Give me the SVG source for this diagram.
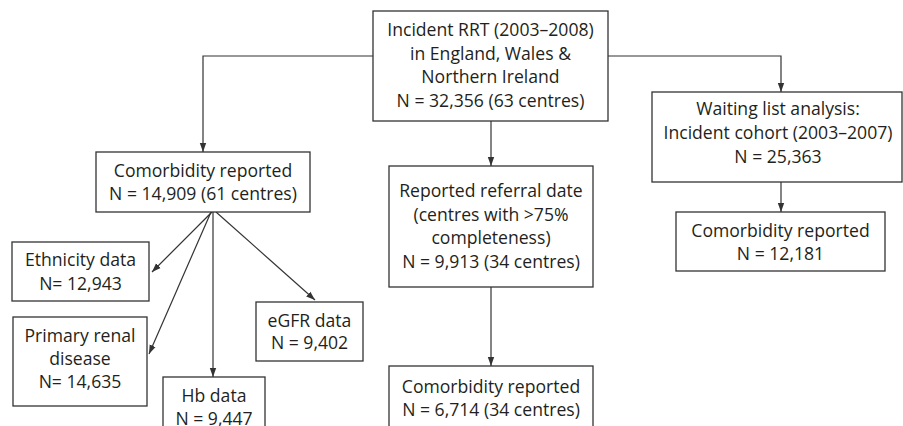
<svg xmlns="http://www.w3.org/2000/svg" width="903" height="426" viewBox="0 0 903 426">
<style>
.box{fill:#fff;stroke:#333;stroke-width:1.3}
.t{font-family:"Open Sans","Liberation Sans",sans-serif;font-size:17.6px;fill:#231f20;text-anchor:middle}
.c{fill:none;stroke:#333;stroke-width:1.2}
</style>
<defs>
<marker id="ah" markerUnits="userSpaceOnUse" markerWidth="10" markerHeight="8" refX="9" refY="4" orient="auto">
<path d="M0,0.8 L9,4 L0,7.2 Z" fill="#333"/>
</marker>
</defs>
<rect width="903" height="426" fill="#fff"/>
<g id="connectors">
<path class="c" d="M373,56 H203 V152" marker-end="url(#ah)"/>
<path class="c" d="M608,56 H781 V92" marker-end="url(#ah)"/>
<path class="c" d="M491,121 V166" marker-end="url(#ah)"/>
<path class="c" d="M491,287 V366" marker-end="url(#ah)"/>
<path class="c" d="M781,182 V212" marker-end="url(#ah)"/>
<path class="c" d="M212,212 L152,272" marker-end="url(#ah)"/>
<path class="c" d="M211,212 L149,354" marker-end="url(#ah)"/>
<path class="c" d="M213,212 V377" marker-end="url(#ah)"/>
<path class="c" d="M216,212 L315,300" marker-end="url(#ah)"/>
</g>
<g id="n-incident">
<rect class="box" x="373" y="11" width="235" height="110"/>
<text class="t" x="490.5" y="36">Incident RRT (2003–2008)</text>
<text class="t" x="490.5" y="60">in England, Wales &amp;</text>
<text class="t" x="490.5" y="83">Northern Ireland</text>
<text class="t" x="490.5" y="107">N = 32,356 (63 centres)</text>
</g>
<g id="n-comorb-left">
<rect class="box" x="96" y="152" width="214" height="60"/>
<text class="t" x="203" y="177">Comorbidity reported</text>
<text class="t" x="203" y="200">N = 14,909 (61 centres)</text>
</g>
<g id="n-referral">
<rect class="box" x="389" y="166" width="204" height="121"/>
<text class="t" x="491" y="197">Reported referral date</text>
<text class="t" x="491" y="221">(centres with &gt;75%</text>
<text class="t" x="491" y="244">completeness)</text>
<text class="t" x="491" y="268">N = 9,913 (34 centres)</text>
</g>
<g id="n-comorb-mid">
<rect class="box" x="389" y="366" width="204" height="70"/>
<text class="t" x="491" y="393">Comorbidity reported</text>
<text class="t" x="491" y="416">N = 6,714 (34 centres)</text>
</g>
<g id="n-waiting">
<rect class="box" x="652" y="92" width="250" height="90"/>
<text class="t" x="778" y="115">Waiting list analysis:</text>
<text class="t" x="778" y="139">Incident cohort (2003–2007)</text>
<text class="t" x="778" y="163">N = 25,363</text>
</g>
<g id="n-comorb-right">
<rect class="box" x="676" y="212" width="209" height="59"/>
<text class="t" x="780.5" y="237">Comorbidity reported</text>
<text class="t" x="780.5" y="260">N = 12,181</text>
</g>
<g id="n-ethnicity">
<rect class="box" x="12" y="242" width="137" height="59"/>
<text class="t" x="80.5" y="266">Ethnicity data</text>
<text class="t" x="80.5" y="290">N= 12,943</text>
</g>
<g id="n-renal">
<rect class="box" x="13" y="317" width="134" height="89"/>
<text class="t" x="80" y="342">Primary renal</text>
<text class="t" x="80" y="365">disease</text>
<text class="t" x="80" y="388">N= 14,635</text>
</g>
<g id="n-hb">
<rect class="box" x="163" y="377" width="102" height="60"/>
<text class="t" x="214" y="402">Hb data</text>
<text class="t" x="214" y="425">N = 9,447</text>
</g>
<g id="n-egfr">
<rect class="box" x="256" y="302" width="107" height="59"/>
<text class="t" x="309.5" y="327">eGFR data</text>
<text class="t" x="309.5" y="349">N = 9,402</text>
</g>
</svg>
